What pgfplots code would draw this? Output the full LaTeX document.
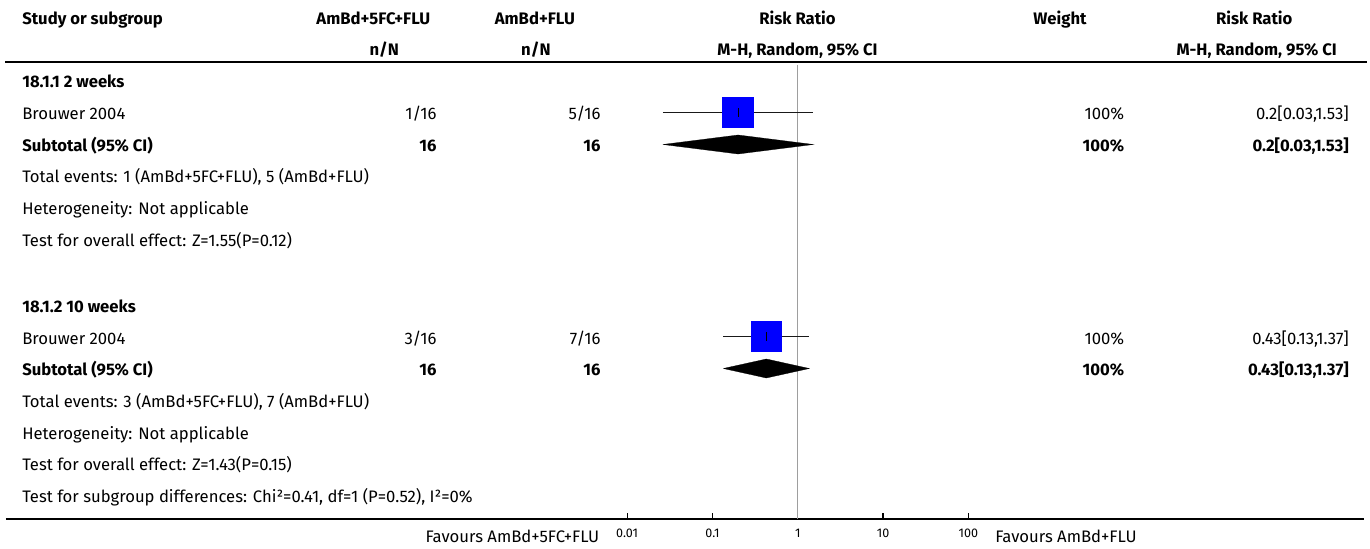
\documentclass[border=0pt]{standalone}
\usepackage{pgfplots}
\pgfplotsset{compat=1.18}
\usepackage{fontspec}
\setmainfont{Fira Sans}
\newcommand\Lt[3]{\node[anchor=base west, inner sep=0pt] at (#1,#2) {#3};}
\newcommand\Rt[3]{\node[anchor=base east, inner sep=0pt] at (#1,#2) {#3};}
\newcommand\Ct[3]{\node[anchor=base, inner sep=0pt] at (#1,#2) {#3};}
\begin{document}
\begin{tikzpicture}[font=\fontsize{12.5}{15}\selectfont]
\useasboundingbox (0pt,0pt) rectangle (1027.5pt,411.75pt);
\begin{axis}[
  at={(4.5pt,22.5pt)}, anchor=south west,
  scale only axis, width=1018.5pt, height=389.25pt,
  xmode=log, xmin=5.2316e-10, xmax=4.3543e6,
  ymin=-519, ymax=0,
  axis x line*=bottom, axis y line=none,
  x axis line style={-, black, line width=1.3pt},
  xtick={0.01,0.1,1,10,100},
  xticklabels={0.01,0.1,1,10,100},
  xminorticks=false,
  tick align=inside, major tick length=4.5pt,
  tick style={black, line width=0.9pt},
  xticklabel style={font=\fontsize{9.4}{10}\selectfont, anchor=north, inner sep=0pt, yshift=-7.5pt},
  clip=false,
]
% line of no effect
\addplot[color=black!38, line width=1.1pt] coordinates {(1,-65) (1,-519)};
% study squares
\addplot[color=blue, only marks, mark=square*, mark size=11.4pt, mark options={fill=blue, draw=blue, line width=0pt}] coordinates {(0.2,-112.3) (0.4286,-336.4)};
% confidence intervals
\addplot[black!90, line width=1.3pt] coordinates {(0.0262,-112.6) (1.526,-112.6)};
\addplot[black!90, line width=1.3pt] coordinates {(0.1341,-336.6) (1.369,-336.6)};
% point ticks
\addplot[color=black, only marks, mark=|, mark size=3.2pt, mark options={black, line width=0.9pt}] coordinates {(0.2,-112.6) (0.4286,-336.6)};
% subtotal diamonds
\addplot[fill=black, draw=black, line width=0.2pt] coordinates {(0.0262,-144.5) (0.2,-135) (1.526,-144.5) (0.2,-154) (0.0262,-144.5)};
\addplot[fill=black, draw=black, line width=0.2pt] coordinates {(0.1341,-368.5) (0.4286,-359) (1.369,-368.5) (0.4286,-378) (0.1341,-368.5)};
\end{axis}
\begin{scope}[x=0.75pt, y=-0.75pt, shift={(0pt,411.75pt)}]
% header rule
\draw[line width=1.3pt] (5,62) -- (1367,62);
% headers
\begin{scope}[font=\fontsize{12.5}{15}\selectfont\bfseries]
\Lt{22}{25}{Study or subgroup}
\Ct{373.4}{25}{AmBd+5FC+FLU}
\Ct{384.2}{56}{n/N}
\Ct{534.9}{25}{AmBd+FLU}
\Ct{535.9}{56}{n/N}
\Ct{797.5}{25}{Risk Ratio}
\Ct{797.5}{56}{M-H, Random, 95\% CI}
\Ct{1060}{25}{Weight}
\Ct{1254.2}{25}{Risk Ratio}
\Ct{1256.7}{56}{M-H, Random, 95\% CI}
\end{scope}
% group 1
\Lt{22}{87.5}{\bfseries 18.1.1 2 weeks}
\Lt{22}{119.5}{Brouwer 2004}
\Rt{436.7}{119.5}{1/16}
\Rt{600.7}{119.5}{5/16}
\Rt{1124.5}{119.5}{100\%}
\Rt{1349}{119.5}{0.2[0.03,1.53]}
\Lt{22}{151.3}{\bfseries Subtotal (95\% CI)}
\Rt{436.7}{151.3}{\bfseries 16}
\Rt{600.7}{151.3}{\bfseries 16}
\Rt{1124.5}{151.3}{\bfseries 100\%}
\Rt{1349}{151.3}{\bfseries 0.2[0.03,1.53]}
\Lt{22}{183}{Total events: 1 (AmBd+5FC+FLU), 5 (AmBd+FLU)}
\Lt{22}{214.7}{Heterogeneity: Not applicable}
\Lt{22}{246.4}{Test for overall effect: Z=1.55(P=0.12)}
% group 2
\Lt{22}{312.6}{\bfseries 18.1.2 10 weeks}
\Lt{22}{344.3}{Brouwer 2004}
\Rt{436.7}{344.3}{3/16}
\Rt{600.7}{344.3}{7/16}
\Rt{1124.5}{344.3}{100\%}
\Rt{1349}{344.3}{0.43[0.13,1.37]}
\Lt{22}{376}{\bfseries Subtotal (95\% CI)}
\Rt{436.7}{376}{\bfseries 16}
\Rt{600.7}{376}{\bfseries 16}
\Rt{1124.5}{376}{\bfseries 100\%}
\Rt{1349}{376}{\bfseries 0.43[0.13,1.37]}
\Lt{22}{407.6}{Total events: 3 (AmBd+5FC+FLU), 7 (AmBd+FLU)}
\Lt{22}{439.3}{Heterogeneity: Not applicable}
\Lt{22}{471}{Test for overall effect: Z=1.43(P=0.15)}
\Lt{22}{502.7}{Test for subgroup differences: Chi²=0.41, df=1 (P=0.52), I²=0\%}
% favours labels
\Rt{599.5}{542.3}{Favours AmBd+5FC+FLU}
\Lt{995}{542.3}{Favours AmBd+FLU}
\end{scope}
\end{tikzpicture}
\end{document}
